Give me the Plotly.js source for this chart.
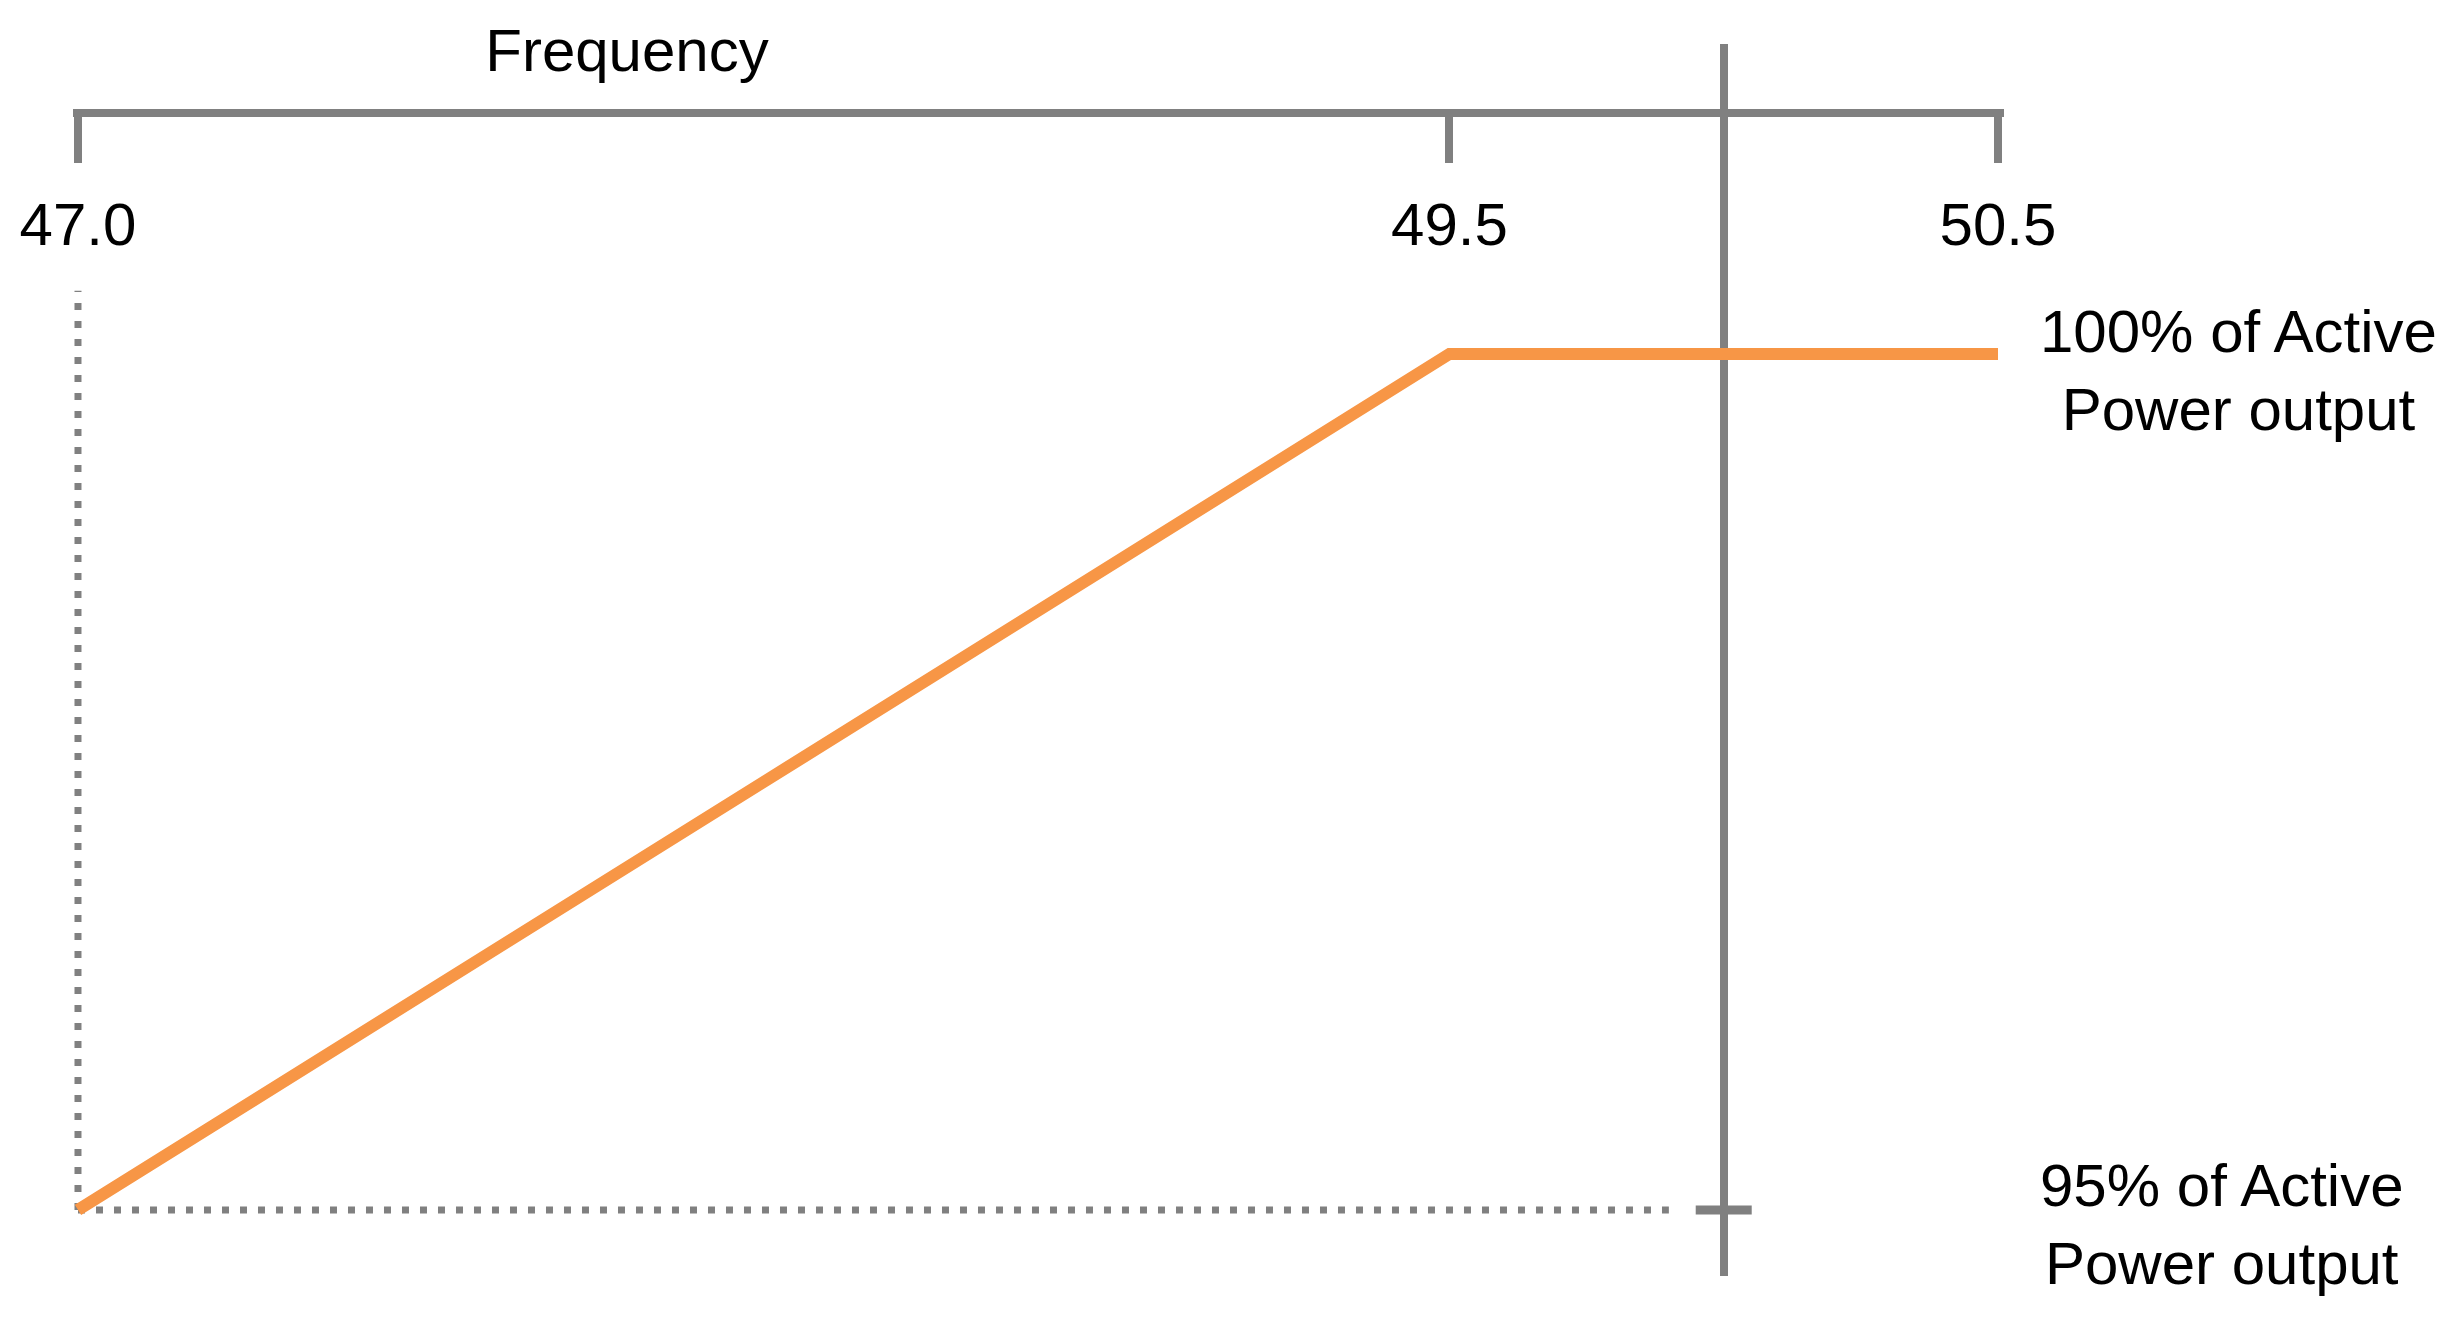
<!DOCTYPE html>
<html>
<head>
<meta charset="utf-8">
<script src="https://cdn.plot.ly/plotly-3.0.1.min.js"></script>
<style>html,body{margin:0;padding:0;background:#fff;}#chart{width:2455px;height:1325px;}</style>
</head>
<body>
<div id="chart"></div>
<script>
// Data
const frequency = [47.0, 49.5, 50.5];
const activePower = [95, 100, 100];
const tickValues = [47.0, 49.5, 50.5];
const tickLabels = ['47.0', '49.5', '50.5'];
const nominalFrequency = [50.0];
const minPowerLevel = [95];
const guideVerticalX = [47.0, 47.0];
const guideVerticalY = [95, 100.37];
const guideHorizontalX = [47.0, 49.9];
const guideHorizontalY = [95, 95];
const labelTop = '100% of Active<br>Power output';
const labelBottom = '95% of Active<br>Power output';

const gray = '#808080';
const orange = '#F79646';
const font = 'Liberation Sans, Arial, sans-serif';

const traces = [
  {x: guideVerticalX, y: guideVerticalY, mode: 'lines', line: {color: gray, width: 7, dash: '7px,11px'}, hoverinfo: 'skip'},
  {x: guideHorizontalX, y: guideHorizontalY, mode: 'lines', line: {color: gray, width: 7, dash: '7px,11px'}, hoverinfo: 'skip'},
  {x: frequency, y: activePower, mode: 'lines', line: {color: orange, width: 12}},
  {x: nominalFrequency, y: minPowerLevel, mode: 'markers', cliponaxis: false,
   marker: {symbol: 'line-ew', size: 40, color: gray, line: {color: gray, width: 9}}}
];

const layout = {
  width: 2455, height: 1325,
  margin: {l: 0, r: 0, t: 0, b: 0},
  paper_bgcolor: '#ffffff', plot_bgcolor: 'rgba(0,0,0,0)',
  showlegend: false,
  font: {family: font, size: 60, color: '#000000'},
  title: {text: 'Frequency', x: 0.2554, xanchor: 'center', y: 0.962, yanchor: 'middle',
          font: {family: font, size: 60, color: '#000000'}},
  xaxis: {
    domain: [72.5/2455, 2003.5/2455], range: [46.99, 50.51],
    anchor: 'free', position: 0.9147,
    showline: true, linewidth: 8, linecolor: gray,
    ticks: 'outside', ticklen: 46, tickwidth: 8, tickcolor: gray,
    tickvals: tickValues, ticktext: tickLabels, ticklabelstandoff: 10,
    tickfont: {family: font, size: 60, color: '#000000'},
    showgrid: false, zeroline: false, fixedrange: true
  },
  yaxis: {
    domain: [0.037, 0.9668], range: [94.614, 101.811],
    anchor: 'free', position: 0.7023,
    showline: true, linewidth: 8, linecolor: gray, layer: 'below traces',
    showticklabels: false, ticks: '',
    showgrid: false, zeroline: false, fixedrange: true
  },
  annotations: [
    {text: labelTop, x: frequency[2], y: activePower[2], xref: 'x', yref: 'y',
     xanchor: 'left', yanchor: 'middle', xshift: 40, yshift: -16, showarrow: false, align: 'center',
     font: {family: font, size: 60, color: '#000000'}},
    {text: labelBottom, x: frequency[2], y: activePower[0], xref: 'x', yref: 'y',
     xanchor: 'left', yanchor: 'middle', xshift: 40, yshift: -15, showarrow: false, align: 'center',
     font: {family: font, size: 60, color: '#000000'}}
  ]
};

Plotly.newPlot('chart', traces, layout, {displayModeBar: false, staticPlot: true});
</script>
</body>
</html>
